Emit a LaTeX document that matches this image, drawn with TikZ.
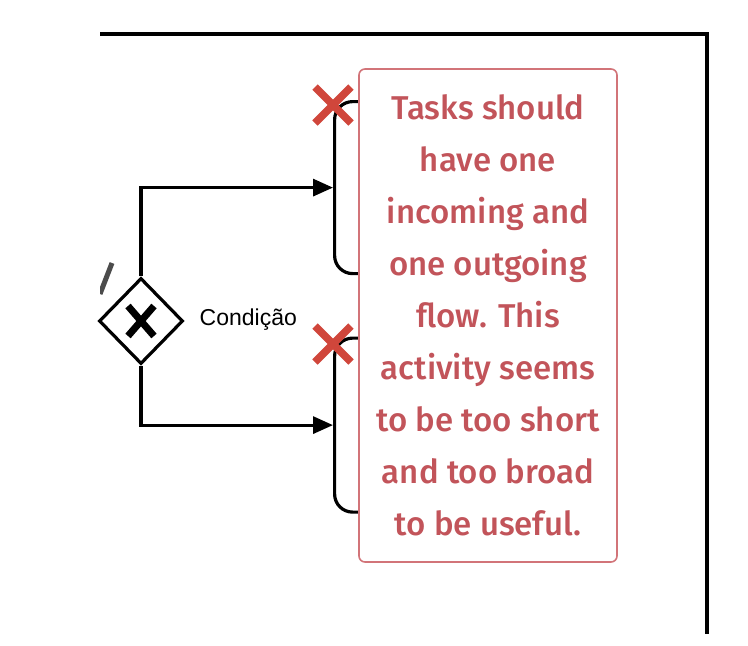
\documentclass[tikz,border=0pt]{standalone}
\usepackage{fontspec}
\setmainfont{Liberation Sans}
\newfontfamily\notefont{Fira Sans Medium}
\usetikzlibrary{shapes.geometric,arrows.meta}
\definecolor{notered}{HTML}{C2545A}
\definecolor{noteborder}{HTML}{D27479}
\definecolor{markred}{HTML}{D0463B}
\tikzset{
  flow/.style={line width=3.2pt,-{Triangle[length=20pt,width=17pt]}},
  taskbox/.style={draw,line width=3.2pt,rounded corners=18pt,minimum width=230pt,anchor=north west,inner sep=0pt},
  xmark/.style={markred,line width=7.5pt},
  notebox/.style={draw=noteborder,line width=1.6pt,fill=white,rounded corners=6pt,text=notered,align=center,inner sep=0pt,
     font=\notefont\fontsize{33}{52}\selectfont,minimum width=258pt,minimum height=493pt}
}
\begin{document}
\begin{tikzpicture}[x=1pt,y=-1pt]
\useasboundingbox (0,0) rectangle (748,646);
% frame
\coordinate (fa) at (100,34);
\coordinate (fb) at (707,34);
\coordinate (fc) at (707,634);
\draw[line width=3.5pt] (fa) -- (fb) -- (fc);
% slash fragment (clipped at x=100)
\begin{scope}
\clip (100,0) rectangle (748,646);
\coordinate (sa) at (100,294);
\coordinate (sb) at (112,263);
\draw[line width=5pt,black!70] (sa) -- (sb);
\end{scope}
% tasks (hidden behind note)
\node[taskbox,minimum height=172pt] (t1) at (333,100) {};
\node[taskbox,minimum height=174pt] (t2) at (333,336.5) {};
% gateway
\node[draw,diamond,line width=3.2pt,minimum width=84pt,minimum height=86pt,inner sep=0pt,fill=white] (gw) at (141,321) {};
\draw[line width=7pt] ([shift={(-13,-15)}]gw.center) -- ([shift={(13,15)}]gw.center)
      ([shift={(13,-15)}]gw.center) -- ([shift={(-13,15)}]gw.center);
\node[font=\fontsize{23}{27}\selectfont,anchor=west,inner sep=0pt] (cond) at (199.5,320) {Condição};
% flows
\draw[flow] (gw.north) |- (t1.west);
\draw[flow] (gw.south) |- (t2.west);
% note
\node[notebox] (note) at (488,315.5) {Tasks should\\have one\\incoming and\\one outgoing\\flow. This\\activity seems\\to be too short\\and too broad\\to be useful.};
% error marks
\coordinate (m1) at (333,105);
\coordinate (m2) at (333,344);
\draw[xmark] ([shift={(-18,-18)}]m1) -- ([shift={(18,18)}]m1) ([shift={(18,-18)}]m1) -- ([shift={(-18,18)}]m1);
\draw[xmark] ([shift={(-18,-18)}]m2) -- ([shift={(18,18)}]m2) ([shift={(18,-18)}]m2) -- ([shift={(-18,18)}]m2);
\end{tikzpicture}
\end{document}
